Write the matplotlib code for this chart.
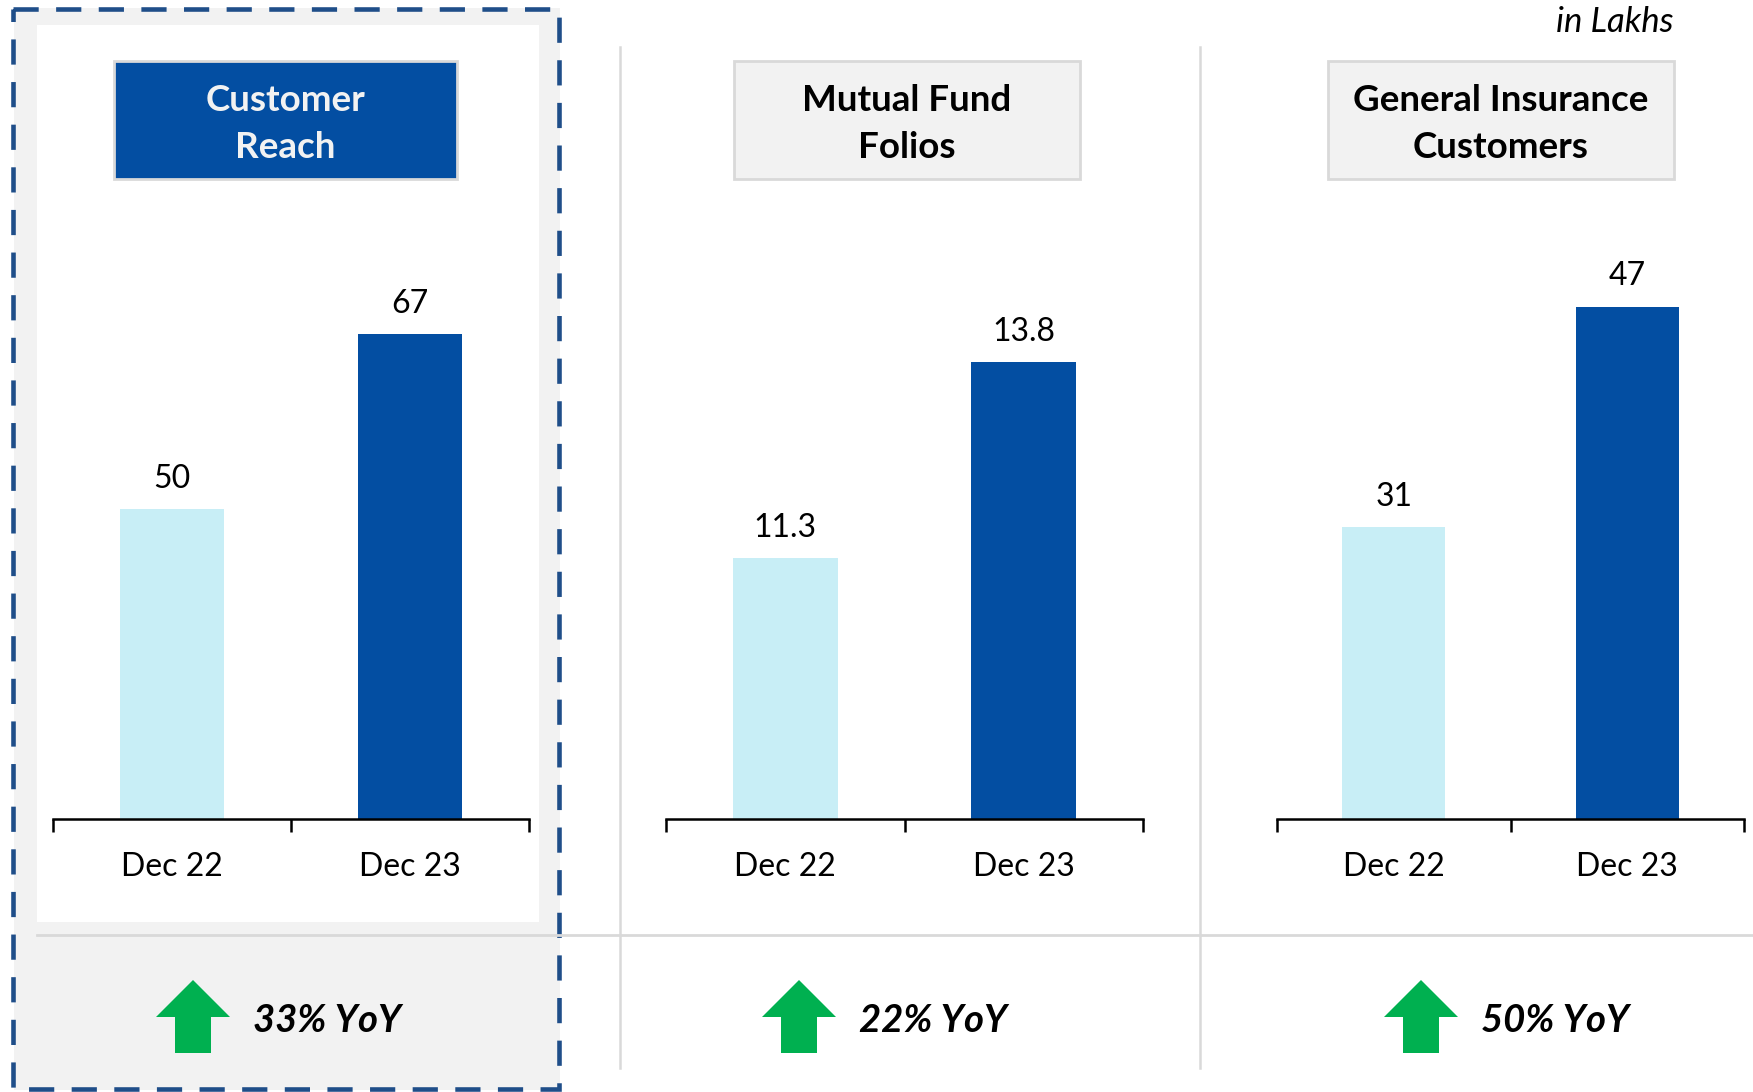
import matplotlib.pyplot as plt
from matplotlib.patches import Rectangle, Polygon

# data
titles = ["Customer\nReach", "Mutual Fund\nFolios", "General Insurance\nCustomers"]
periods = ["Dec 22", "Dec 23"]
dec22 = [50, 11.3, 31]
dec23 = [67, 13.8, 47]
yoy = ["33% YoY", "22% YoY", "50% YoY"]
unit_note = "in Lakhs"

light = '#C8EEF6'
dark = '#034EA2'
green = '#00B050'
grey_fill = '#F2F2F2'
grey_line = '#D9D9D9'
FONT = 'Lato'

W, H = 1753, 1092
fig = plt.figure(figsize=(W / 100, H / 100), dpi=100)

# background layer in pixel units (y downwards)
bg = fig.add_axes([0, 0, 1, 1], zorder=0)
bg.set_xlim(0, W)
bg.set_ylim(H, 0)
bg.axis('off')

# highlighted first panel
bg.add_patch(Rectangle((14, 8), 546, 1082, facecolor=grey_fill, edgecolor='none'))
bg.add_patch(Rectangle((37, 25), 502, 897, facecolor='white', edgecolor='none'))
bg.add_patch(Rectangle((13, 9), 546, 1080, facecolor='none', edgecolor='#1F4E89',
                       lw=3.3, linestyle=(0, (5.5, 3.8))))

# separators
bg.plot([37, W], [935, 935], color=grey_line, lw=2)
for x in (620, 1200):
    bg.plot([x, x], [47, 1068], color=grey_line, lw=1.8)

bg.text(1674, 22, unit_note, ha='right', va='center', fontsize=25, style='italic',
        family=FONT)

# panel layout (pixels): axes left/right, title box, arrow x
ax_lr = [(53, 529), (666, 1143), (1277, 1744)]
box_x = [(114, 457), (734, 1080), (1328, 1674)]
arrow_x = [193, 799, 1421]
ylims = [(19.8, 80.1), (7.97, 15.87), (9.8, 54.75)]
ax_top, ax_bot = 200, 819

for i in range(3):
    # title box
    x0, x1 = box_x[i]
    first = i == 0
    bg.add_patch(Rectangle((x0, 61), x1 - x0, 118, facecolor=dark if first else grey_fill,
                           edgecolor=grey_line, lw=2))
    bg.text((x0 + x1) / 2, 124, titles[i], ha='center', va='center', fontsize=26.5,
            fontweight='bold', color='#F2F2F2' if first else 'black', family=FONT,
            linespacing=1.5)

    # growth arrow + text
    cx = arrow_x[i]
    bg.add_patch(Polygon([(cx, 980), (cx + 37, 1017), (cx + 18, 1017), (cx + 18, 1053),
                          (cx - 18, 1053), (cx - 18, 1017), (cx - 37, 1017)],
                         closed=True, facecolor=green, edgecolor='none'))
    bg.text(cx + 60, 1020, yoy[i], ha='left', va='center', fontsize=27.5, fontweight='bold',
            style='italic', family=FONT)

    # bar chart
    l, r = ax_lr[i]
    ax = fig.add_axes([l / W, 1 - ax_bot / H, (r - l) / W, (ax_bot - ax_top) / H], zorder=1)
    ax.set_facecolor('none')
    bars = ax.bar([0, 1], [dec22[i], dec23[i]], width=0.44, color=[light, dark])
    ax.bar_label(bars, labels=['{:g}'.format(v) for v in (dec22[i], dec23[i])],
                 padding=11, fontsize=23, family=FONT)
    ax.set_xlim(-0.5, 1.5)
    ax.set_ylim(*ylims[i])
    for s in ('left', 'right', 'top'):
        ax.spines[s].set_visible(False)
    ax.spines['bottom'].set_linewidth(1.8)
    ax.set_yticks([])
    ax.set_xticks([0, 1])
    ax.set_xticklabels(periods, fontsize=23, family=FONT)
    ax.tick_params(axis='x', which='major', length=0, pad=24)
    ax.set_xticks([-0.5, 0.5, 1.5], minor=True)
    ax.tick_params(axis='x', which='minor', length=9, width=1.8, direction='out')

fig.savefig('out.png', dpi=100)
